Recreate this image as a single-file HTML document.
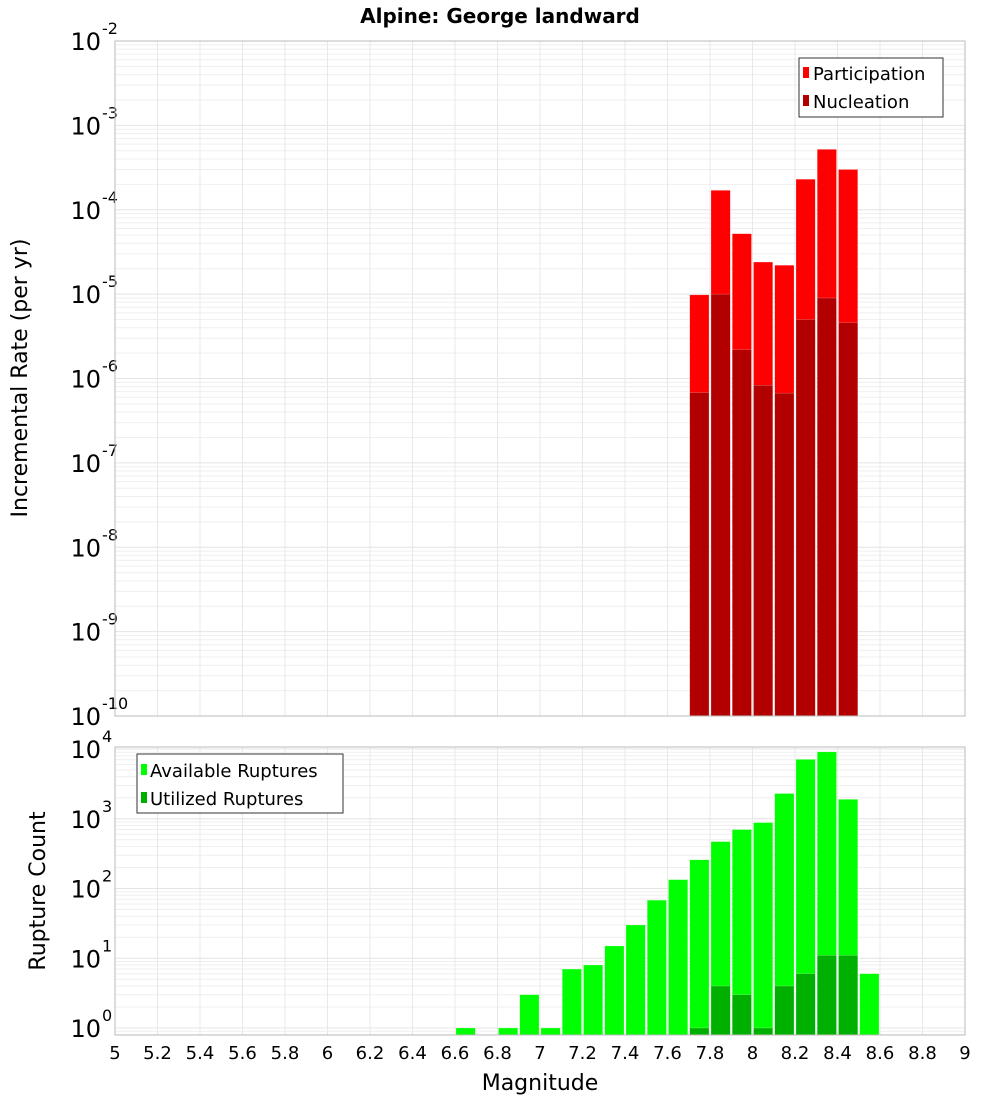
<!DOCTYPE html>
<html><head><meta charset="utf-8"><style>
body{margin:0;background:#fff;font-family:"Liberation Sans","DejaVu Sans",sans-serif}
svg text{font-family:"DejaVu Sans","Liberation Sans",sans-serif}
</style></head><body>
<svg id="c" width="1000" height="1100" xmlns="http://www.w3.org/2000/svg">
<text x="500" y="23" text-anchor="middle" font-size="20" font-weight="bold">Alpine: George landward</text>
<g id="top"></g>
<g id="bot"></g>
<text transform="translate(27,378) rotate(-90)" text-anchor="middle" font-size="22">Incremental Rate (per yr)</text>
<text transform="translate(45,891) rotate(-90)" text-anchor="middle" font-size="22">Rupture Count</text>
<text x="540" y="1090" text-anchor="middle" font-size="22">Magnitude</text>
<g>
<rect x="799" y="58" width="144" height="59" fill="#fff" stroke="#333"/>
<rect x="803" y="67" width="6" height="11" fill="#ff0000"/>
<text x="813" y="80" font-size="18">Participation</text>
<rect x="803" y="95" width="6" height="11" fill="#b20000"/>
<text x="813" y="108" font-size="18">Nucleation</text>
</g>
<g>
<rect x="137" y="754" width="206" height="59" fill="#fff" stroke="#333"/>
<rect x="141" y="764" width="6" height="11" fill="#00ff00"/>
<text x="150" y="777" font-size="18">Available Ruptures</text>
<rect x="141" y="792" width="6" height="11" fill="#00b000"/>
<text x="150" y="805" font-size="18">Utilized Ruptures</text>
</g>
</svg>
<script>
const rateMags=[7.7,7.8,7.9,8.0,8.1,8.2,8.3,8.4];
const participation=[9.8e-6,1.7e-4,5.2e-5,2.4e-5,2.2e-5,2.3e-4,5.2e-4,3.0e-4];
const nucleation=[6.8e-7,1.0e-5,2.2e-6,8.3e-7,6.7e-7,5.0e-6,9.0e-6,4.6e-6];
const countMags=[6.6,6.7,6.8,6.9,7.0,7.1,7.2,7.3,7.4,7.5,7.6,7.7,7.8,7.9,8.0,8.1,8.2,8.3,8.4,8.5];
const available=[1,0,1,3,1,7,8,15,30,68,134,258,470,700,880,2300,7100,9100,1900,6];
const utilized=[0,0,0,0,0,0,0,0,0,0,0,1,4,3,1,4,6,11,11,0];
const xTicks=["5","5.2","5.4","5.6","5.8","6","6.2","6.4","6.6","6.8","7","7.2","7.4","7.6","7.8","8","8.2","8.4","8.6","8.8","9"];
const NS="http://www.w3.org/2000/svg";
const L=115,R=965;
function X(m){return L+(m-5)/4*(R-L);}
function mk(p,t,a){const e=document.createElementNS(NS,t);for(const k in a)e.setAttribute(k,a[k]);p.appendChild(e);return e;}
function plot(g,top,bot,lmin,lmax,name){
  const Y=v=>bot-(Math.log10(v)-lmin)/(lmax-lmin)*(bot-top);
  for(let d=Math.floor(lmin);d<Math.ceil(lmax);d++)for(let k=1;k<10;k++){const lv=d+Math.log10(k);if(lv<lmin||lv>lmax)continue;const y=Y(Math.pow(10,lv));
    const l=mk(g,'line',{x1:L,x2:R,y1:y,y2:y,stroke:k==1?'#e4e4e4':'#efefef','stroke-width':1});
    }
  xTicks.forEach(t=>{const x=X(+t);const l=mk(g,'line',{x1:x,x2:x,y1:top,y2:bot,stroke:'#e8e8e8'});
    });
  for(let d=Math.ceil(lmin);d<=Math.floor(lmax);d++){const y=Y(Math.pow(10,d));
    const t=mk(g,'text',{x:L-14,y:y+9,'text-anchor':'end','font-size':24});
    
    t.textContent='10';const s=mk(g,'text',{x:L-13,y:y-7,'font-size':16});s.textContent=String(d);
    }
  return Y;
}
function bars(g,Y,bot,mags,vals,col,name){
  mags.forEach((m,i)=>{const v=vals[i];if(!(v>0))return;const x0=X(m),x1=X(m+0.1);const y=Math.max(Y(v),0);
    const r=mk(g,'rect',{x:x0+1,y:y,width:x1-x0-2,height:bot-y,fill:col,stroke:'rgba(255,255,255,0.4)','stroke-width':0.5});
    });
}
const gt=document.getElementById('top'),gb=document.getElementById('bot');
const Yt=plot(gt,41,716,-10,-2,'rate');
bars(gt,Yt,716,rateMags,participation,'#ff0000','bar-participation');
bars(gt,Yt,716,rateMags,nucleation,'#b20000','bar-nucleation');
mk(gt,'rect',{x:L,y:41,width:R-L,height:675,fill:'none',stroke:'#bbb'});
const lmin=-7/69.75,lmax=4+2/69.75;
const Yb=plot(gb,747,1035,lmin,lmax,'count');
bars(gb,Yb,1035,countMags,available,'#00ff00','bar-available');
bars(gb,Yb,1035,countMags,utilized,'#00b000','bar-utilized');
mk(gb,'rect',{x:L,y:747,width:R-L,height:288,fill:'none',stroke:'#bbb'});
xTicks.forEach(t=>{const e=mk(gb,'text',{x:X(+t),y:1059,'text-anchor':'middle','font-size':18});e.textContent=t;
  });
</script>
</body></html>
